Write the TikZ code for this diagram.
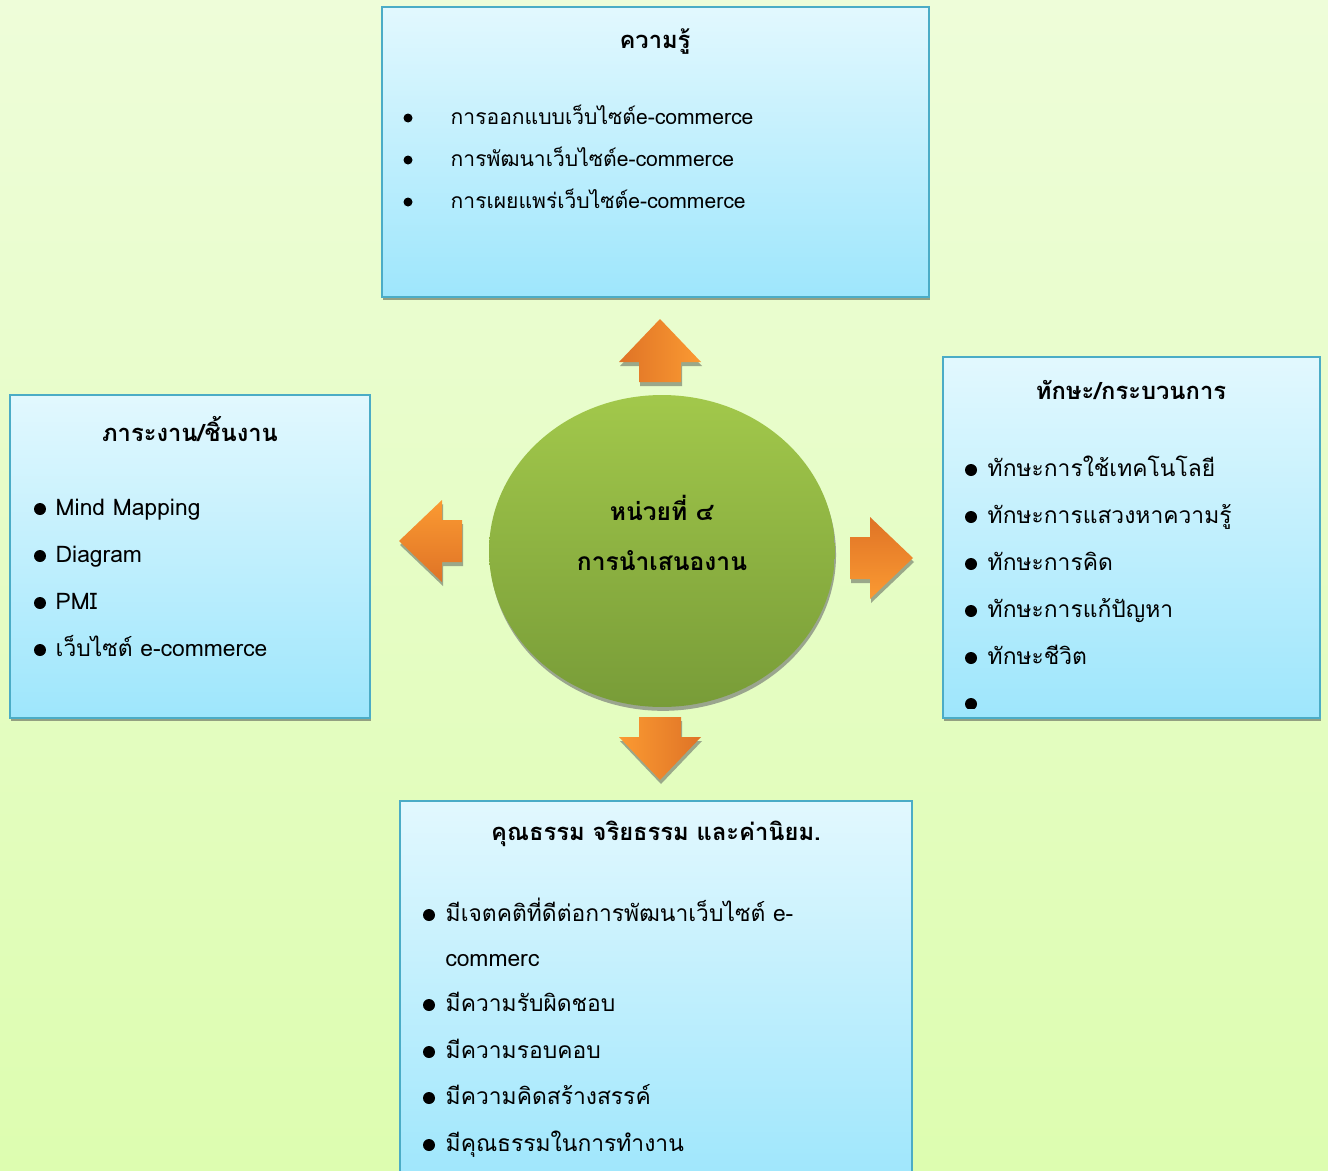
\documentclass[tikz,border=0pt]{standalone}
\usepackage{fontspec}
\setmainfont[Script=Thai]{Loma}
\usepackage{tikz}
\usetikzlibrary{positioning,shapes.geometric,shadows}

\definecolor{bgtop}{HTML}{EEFDD9}
\definecolor{bgbot}{HTML}{DDFDB0}
\definecolor{boxtop}{HTML}{E2F8FE}
\definecolor{boxbot}{HTML}{9EE6FC}
\definecolor{boxedge}{HTML}{4BACC6}
\definecolor{boxshade}{HTML}{93A082}
\definecolor{hubtop}{HTML}{A2C84B}
\definecolor{hubbot}{HTML}{789C38}
\definecolor{hubshade}{HTML}{9AA58E}
\definecolor{arrdark}{HTML}{DF7326}
\definecolor{arrlight}{HTML}{FB9A32}
\definecolor{arrshade}{HTML}{9AA88A}

\begin{document}
\begin{tikzpicture}[
    x=0.02cm, y=-0.02cm,
    box/.style={draw=boxedge, line width=1.2pt, top color=boxtop, bottom color=boxbot, inner sep=0pt,
        drop shadow={shadow xshift=0.6pt, shadow yshift=-2pt, fill=boxshade, opacity=1}},
    hub/.style={ellipse, top color=hubtop, bottom color=hubbot, inner sep=0pt,
        minimum width=6.92cm, minimum height=6.24cm,
        drop shadow={shadow xshift=0.6pt, shadow yshift=-2.2pt, fill=hubshade, opacity=1}},
    hubtext/.style={font=\fontsize{14}{28}\selectfont\bfseries, align=center, inner sep=0pt},
    title/.style={font=\fontsize{13.5}{15}\selectfont\bfseries, inner sep=0pt},
    item/.style={font=\fontsize{13}{15}\selectfont, inner sep=0pt, anchor=west,
        text height=0.9em, text depth=0.12em},
    smallitem/.style={font=\fontsize{12}{14}\selectfont, inner sep=0pt, anchor=west,
        text height=0.9em, text depth=0.12em},
    dot/.style={circle, fill=black, inner sep=0pt, minimum size=0.24cm},
    smalldot/.style={circle, fill=black, inner sep=0pt, minimum size=0.18cm},
    upshade/.style={left color=arrdark, right color=arrlight},
    downshade/.style={left color=arrlight, right color=arrdark},
    leftshade/.style={top color=arrlight, bottom color=arrdark},
    rightshade/.style={top color=arrdark, bottom color=arrlight},
]
\useasboundingbox (0,0) rectangle (1328,1170);
\clip (0,0) rectangle (1328,1170);
\fill[top color=bgtop, bottom color=bgbot] (0,0) rectangle (1328,1170);

% block arrows round the hub
\foreach \cx/\cy/\ang/\shd in {660/351/0/upshade, 431/541/90/leftshade, 881/558/-90/rightshade, 660/748/180/downshade} {
    \fill[arrshade, shift={(\cx+1,\cy+4)}, rotate=\ang]
        (0,-32) -- (41,11) -- (21,11) -- (21,31) -- (-21,31) -- (-21,11) -- (-41,11) -- cycle;
    \path[\shd, shift={(\cx,\cy)}, rotate=\ang]
        (0,-32) -- (41,11) -- (21,11) -- (21,31) -- (-21,31) -- (-21,11) -- (-41,11) -- cycle;
}

% hub
\node[hub] (hub) at (662,551) {};
\node[hubtext] (hublabel) at (662,533) {หน่วยที่ ๔\\การนำเสนองาน};

% boxes
\node[box, minimum width=10.94cm, minimum height=5.8cm] (know) at (655.5,152) {};
\node[box, minimum width=7.2cm, minimum height=6.46cm] (work) at (190,556.5) {};
\node[box, minimum width=7.54cm, minimum height=7.22cm] (skill) at (1131.5,537.5) {};
\node[box, minimum width=10.24cm, minimum height=7.68cm] (moral) at (656,993) {};

% titles
\node[title] (knowtitle) at (655,42) {ความรู้};
\node[title] (worktitle) at (190,429) {ภาระงาน/ชิ้นงาน};
\node[title] (skilltitle) at (1131,390) {ทักษะ/กระบวนการ};
\node[title] (moraltitle) at (656,834) {คุณธรรม จริยธรรม และค่านิยม.};

% knowledge
\foreach \i/\y/\lab in {1/118/การออกแบบเว็บไซต์e-commerce, 2/160/การพัฒนาเว็บไซต์e-commerce, 3/202/การเผยแพร่เว็บไซต์e-commerce} {
    \node[smalldot] (kdot\i) at (408,\y) {};
    \node[smallitem, right=0.75cm of kdot\i] (kitem\i) {\lab};
}

% tasks / pieces of work
\foreach \i/\y/\lab in {1/509/Mind Mapping, 2/556/Diagram, 3/603/PMI, 4/650/เว็บไซต์ e-commerce} {
    \node[dot] (wdot\i) at (40,\y) {};
    \node[item, right=0.18cm of wdot\i] (witem\i) {\lab};
}

% skills / process
\foreach \i/\y/\lab in {1/470/ทักษะการใช้เทคโนโลยี, 2/517/ทักษะการแสวงหาความรู้, 3/564/ทักษะการคิด, 4/611/ทักษะการแก้ปัญหา, 5/658/ทักษะชีวิต} {
    \node[dot] (sdot\i) at (971,\y) {};
    \node[item, right=0.2cm of sdot\i] (sitem\i) {\lab};
}
\begin{scope}
    \clip (943,357) rectangle (1320,708);
    \node[dot] (sdot6) at (971,704) {};
\end{scope}

% morals and values
\node[dot] (mdot1) at (429,915) {};
\node[item, right=0.2cm of mdot1] (mitem1) {มีเจตคติที่ดีต่อการพัฒนาเว็บไซต์ e-};
\node[item] (mitem1b) at (445,960) {commerc};
\foreach \i/\y/\lab in {2/1005/มีความรับผิดชอบ, 3/1052/มีความรอบคอบ, 4/1098/มีความคิดสร้างสรรค์, 5/1145/มีคุณธรรมในการทำงาน} {
    \node[dot] (mdot\i) at (429,\y) {};
    \node[item, right=0.2cm of mdot\i] (mitem\i) {\lab};
}
\end{tikzpicture}
\end{document}
